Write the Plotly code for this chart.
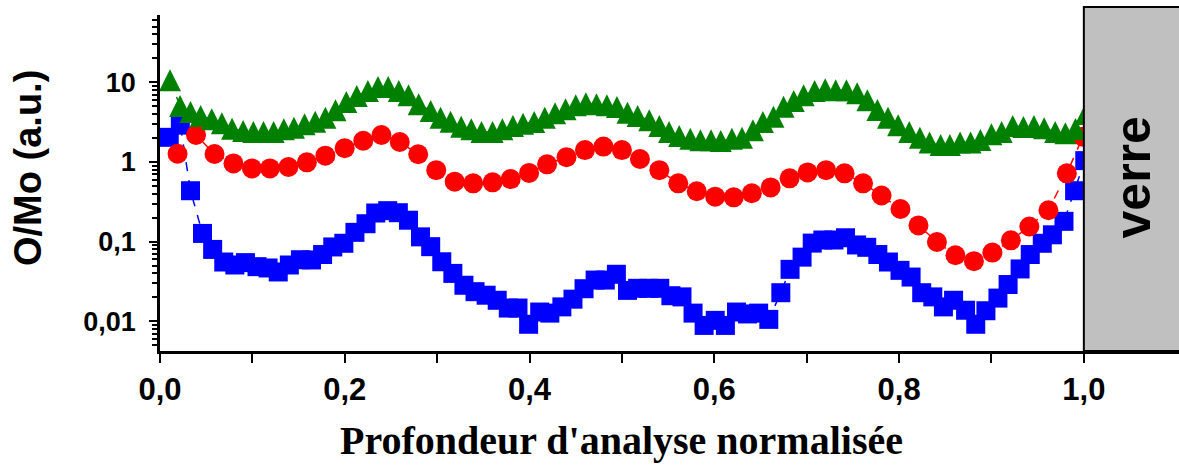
import math
import plotly.graph_objects as go

# ---- data ----
blue_x = [0.010, 0.022, 0.033, 0.046, 0.057, 0.069, 0.081, 0.0925, 0.105, 0.117,
          0.128, 0.140, 0.152, 0.164, 0.176, 0.187, 0.199, 0.211, 0.223, 0.2335,
          0.2465, 0.258, 0.269, 0.282, 0.293, 0.305, 0.317, 0.329, 0.341, 0.353,
          0.365, 0.377, 0.3875, 0.399, 0.411, 0.422, 0.435, 0.447, 0.459, 0.471,
          0.482, 0.494, 0.506, 0.517, 0.529, 0.541, 0.553, 0.565, 0.577, 0.589,
          0.601, 0.612, 0.624, 0.636, 0.648, 0.659, 0.672, 0.682, 0.695, 0.706,
          0.7175, 0.7295, 0.742, 0.754, 0.765, 0.777, 0.7885, 0.801, 0.813, 0.8245,
          0.8365, 0.848, 0.859, 0.872, 0.883, 0.894, 0.907, 0.918, 0.931, 0.942,
          0.955, 0.966, 0.9785, 0.990, 1.001]
blue_y = [2.04, 2.9, 0.436, 0.127, 0.080, 0.0556, 0.051, 0.0546, 0.0486, 0.0468,
          0.0417, 0.051, 0.0594, 0.059, 0.069, 0.0859, 0.0955, 0.131, 0.168, 0.229,
          0.245, 0.231, 0.186, 0.115, 0.0866, 0.056, 0.040, 0.0284, 0.0236, 0.0213,
          0.0184, 0.0147, 0.0147, 0.0092, 0.0131, 0.0127, 0.0152, 0.019, 0.0257, 0.033,
          0.033, 0.039, 0.0245, 0.026, 0.026, 0.026, 0.021, 0.0203, 0.0127, 0.0089,
          0.0103, 0.0089, 0.0131, 0.0124, 0.0127, 0.0106, 0.0229, 0.045, 0.064, 0.096,
          0.105, 0.105, 0.112, 0.091, 0.085, 0.069, 0.0556, 0.0437, 0.036, 0.0229,
          0.0203, 0.0152, 0.0184, 0.0138, 0.0092, 0.0136, 0.0196, 0.029, 0.0455, 0.069,
          0.0955, 0.122, 0.18, 0.436, 1.04]

red_x = [0.019, 0.039, 0.059, 0.0795, 0.0995, 0.119, 0.139, 0.159, 0.179, 0.1999,
         0.22, 0.2397, 0.2595, 0.2795, 0.299, 0.319, 0.339, 0.36, 0.3796, 0.3995,
         0.419, 0.44, 0.46, 0.48, 0.5, 0.5195, 0.5405, 0.561, 0.581, 0.601,
         0.621, 0.6406, 0.661, 0.6815, 0.701, 0.721, 0.741, 0.761, 0.781, 0.8015,
         0.821, 0.841, 0.861, 0.881, 0.901, 0.921, 0.941, 0.9617, 0.9816, 0.999]
red_y = [1.27, 2.18, 1.26, 0.96, 0.83, 0.83, 0.865, 0.99, 1.2, 1.49,
         1.85, 2.18, 1.78, 1.25, 0.79, 0.566, 0.54, 0.556, 0.61, 0.73,
         0.935, 1.15, 1.41, 1.56, 1.41, 1.09, 0.79, 0.54, 0.43, 0.367,
         0.36, 0.405, 0.48, 0.624, 0.74, 0.79, 0.72, 0.54, 0.38, 0.257,
         0.16, 0.099, 0.0675, 0.057, 0.073, 0.104, 0.155, 0.248, 0.72, 2.08]

green_x = [0.0108, 0.0217, 0.033, 0.044, 0.056, 0.067, 0.078, 0.090, 0.101, 0.112,
           0.123, 0.134, 0.145, 0.1565, 0.168, 0.179, 0.19, 0.2017, 0.213, 0.225,
           0.236, 0.247, 0.2585, 0.269, 0.280, 0.293, 0.3037, 0.3145, 0.326, 0.337,
           0.348, 0.36, 0.3706, 0.382, 0.393, 0.405, 0.4165, 0.4276, 0.439, 0.45,
           0.461, 0.4725, 0.4837, 0.4946, 0.506, 0.517, 0.5296, 0.5405, 0.551, 0.562,
           0.574, 0.585, 0.5965, 0.607, 0.619, 0.630, 0.6418, 0.6526, 0.664, 0.675,
           0.686, 0.6967, 0.7086, 0.72, 0.7314, 0.743, 0.7546, 0.7657, 0.7766, 0.788,
           0.799, 0.811, 0.8225, 0.833, 0.845, 0.855, 0.866, 0.8774, 0.888, 0.9,
           0.911, 0.923, 0.9346, 0.946, 0.957, 0.969, 0.98, 0.991, 1.002]
green_y = [10.6, 5.04, 4.24, 3.78, 3.43, 3.06, 2.62, 2.45, 2.38, 2.38,
           2.38, 2.57, 2.69, 2.97, 3.2, 3.6, 4.45, 5.66, 6.73, 7.77,
           8.73, 8.73, 7.77, 6.87, 5.3, 4.37, 3.6, 3.2, 2.77, 2.57,
           2.38, 2.38, 2.57, 2.83, 3.02, 3.18, 3.6, 4.08, 4.58, 5.14,
           5.45, 5.3, 5.14, 4.9, 4.15, 3.78, 3.34, 2.83, 2.38, 2.12,
           1.96, 1.87, 1.87, 1.83, 1.96, 2.02, 2.5, 3.18, 3.7, 4.94,
           5.83, 6.87, 7.77, 8.17, 7.94, 7.94, 7.28, 5.94, 4.49, 3.6,
           2.89, 2.38, 2.02, 1.75, 1.63, 1.63, 1.75, 1.75, 1.89, 2.23,
           2.38, 2.83, 2.75, 2.83, 2.65, 2.38, 2.29, 2.6, 4.0]

x_minor_ticks = [0.1, 0.3, 0.5, 0.7, 0.9]
glass_start = 1.0
x_title = "Profondeur d'analyse normalisée"
y_title = "O/Mo (a.u.)"
glass_label = "verre"

# ---- figure ----
fig = go.Figure()

fig.add_trace(go.Scatter(
    x=blue_x, y=blue_y, mode="lines+markers",
    line=dict(color="#0000FF", width=1.5, dash="dash"),
    marker=dict(symbol="square", size=19, color="#0000FF", line=dict(width=0)),
    showlegend=False))

fig.add_trace(go.Scatter(
    x=red_x, y=red_y, mode="lines+markers",
    line=dict(color="#FF0000", width=1.5, dash="dash"),
    marker=dict(symbol="circle", size=20, color="#FF0000", line=dict(width=0)),
    showlegend=False))

fig.add_trace(go.Scatter(
    x=green_x, y=green_y, mode="lines+markers",
    line=dict(color="#008000", width=1.5, dash="dash"),
    marker=dict(symbol="arrow-down", angle=180, standoff=11, size=22,
                color="#008000", line=dict(width=0)),
    showlegend=False))

W, H = 1179, 468
ml, mr, mt, mb = 160, 0, 15, 117
plot_w = W - ml - mr
plot_h = H - mt - mb

x_max = 1.103
y_top = 1.8444
y_bot = y_top - 4.216

fig.update_layout(
    width=W, height=H,
    margin=dict(l=ml, r=mr, t=mt, b=mb, pad=0),
    paper_bgcolor="white", plot_bgcolor="white",
    separators=", ",
    font=dict(family="Liberation Sans, Arial", color="black"),
    showlegend=False,
)

fig.update_xaxes(
    range=[0, x_max], showgrid=False, zeroline=False,
    showline=True, linecolor="black", linewidth=2.5,
    ticks="outside", ticklen=9, tickwidth=2, tickcolor="black",
    tickmode="array", tickvals=[0, 0.2, 0.4, 0.6, 0.8, 1.0], tickformat=".1f",
    tickfont=dict(family="Liberation Sans, Arial", size=31, color="black", weight="bold"),
    minor=dict(ticks="outside", ticklen=9, tickwidth=2, tickcolor="black",
               tickmode="array", tickvals=x_minor_ticks, showgrid=False),
)

fig.update_yaxes(
    type="log", range=[y_bot, y_top], showgrid=False, zeroline=False,
    showline=True, linecolor="black", linewidth=2.5,
    ticks="outside", ticklen=8, tickwidth=2, tickcolor="black",
    dtick=1, ticklabelstandoff=8,
    tickfont=dict(family="Liberation Sans, Arial", size=27, color="black", weight="bold"),
    minor=dict(ticks="outside", ticklen=5, tickwidth=2, tickcolor="black", dtick="D1", showgrid=False),
)

# glass region (paper coordinates so it is not clipped)
gx0 = glass_start / x_max
fig.add_shape(type="rect", xref="paper", yref="paper",
              x0=gx0, x1=1.05, y0=0, y1=1 + 8 / plot_h,
              fillcolor="#C0C0C0", line=dict(color="black", width=2), layer="above")

fig.add_annotation(xref="paper", yref="paper", x=(gx0 + 1) / 2 + 0.002, y=(H - mb - 177) / plot_h,
                   text=glass_label, textangle=-90, showarrow=False,
                   font=dict(family="Liberation Sans, Arial", size=50, color="black", weight="bold"),
                   xanchor="center", yanchor="middle")

# axis titles
fig.add_annotation(xref="x", yref="paper", x=0.5, y=(H - mb - 440) / plot_h,
                   text=x_title, showarrow=False,
                   font=dict(family="Liberation Serif, Times New Roman", size=40, color="black", weight="bold"),
                   xanchor="center", yanchor="middle")

fig.add_annotation(xref="paper", yref="paper", x=(28 - ml) / plot_w, y=(H - mb - 168) / plot_h,
                   text=y_title, textangle=-90, showarrow=False,
                   font=dict(family="Liberation Sans, Arial", size=38, color="black", weight="bold"),
                   xanchor="center", yanchor="middle")

fig.write_html("out.html",
               config={"displayModeBar": False},
               post_script="document.body.style.margin='0';document.body.style.overflow='hidden';")
